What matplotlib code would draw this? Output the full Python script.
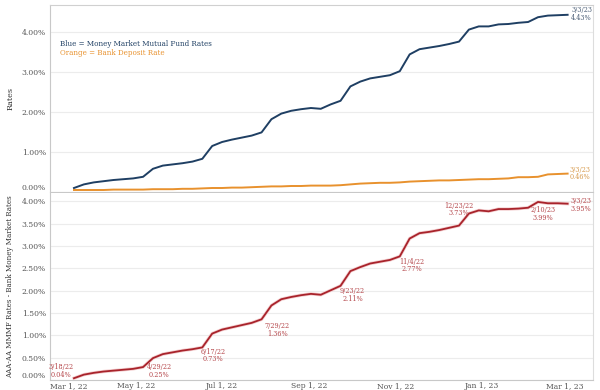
import matplotlib
matplotlib.use("Agg")
import matplotlib.pyplot as plt
import matplotlib.dates as mdates
from matplotlib.ticker import FixedLocator, FixedFormatter
import pandas as pd

dates = ["2022-03-18", "2022-03-25", "2022-04-01", "2022-04-08", "2022-04-15", "2022-04-22",
         "2022-04-29", "2022-05-06", "2022-05-13", "2022-05-20", "2022-05-27", "2022-06-03",
         "2022-06-10", "2022-06-17", "2022-06-24", "2022-07-01", "2022-07-08", "2022-07-15",
         "2022-07-22", "2022-07-29", "2022-08-05", "2022-08-12", "2022-08-19", "2022-08-26",
         "2022-09-02", "2022-09-09", "2022-09-16", "2022-09-23", "2022-09-30", "2022-10-07",
         "2022-10-14", "2022-10-21", "2022-10-28", "2022-11-04", "2022-11-11", "2022-11-18",
         "2022-11-25", "2022-12-02", "2022-12-09", "2022-12-16", "2022-12-23", "2022-12-30",
         "2023-01-06", "2023-01-13", "2023-01-20", "2023-01-27", "2023-02-03", "2023-02-10",
         "2023-02-17", "2023-02-24", "2023-03-03"]

mmmf = [0.10, 0.19, 0.24, 0.27, 0.30, 0.32, 0.34, 0.38, 0.58, 0.66, 0.69, 0.72, 0.76, 0.83,
        1.15, 1.25, 1.31, 1.36, 1.41, 1.49, 1.82, 1.96, 2.03, 2.07, 2.10, 2.08, 2.19, 2.28,
        2.64, 2.76, 2.84, 2.88, 2.92, 3.02, 3.44, 3.57, 3.61, 3.65, 3.70, 3.76, 4.06, 4.14,
        4.14, 4.19, 4.20, 4.23, 4.25, 4.37, 4.41, 4.42, 4.43]

bank = [0.05, 0.05, 0.05, 0.05, 0.06, 0.06, 0.06, 0.06, 0.07, 0.07, 0.07, 0.08, 0.08, 0.09,
        0.10, 0.10, 0.11, 0.11, 0.12, 0.13, 0.14, 0.14, 0.15, 0.15, 0.16, 0.16, 0.16, 0.17,
        0.19, 0.21, 0.22, 0.23, 0.23, 0.24, 0.26, 0.27, 0.28, 0.29, 0.29, 0.30, 0.31, 0.32,
        0.32, 0.33, 0.34, 0.37, 0.37, 0.38, 0.44, 0.45, 0.46]

spread = [0.04, 0.12, 0.16, 0.19, 0.21, 0.23, 0.25, 0.29, 0.49, 0.58, 0.62, 0.66, 0.69, 0.73,
          1.04, 1.13, 1.18, 1.23, 1.28, 1.36, 1.67, 1.81, 1.86, 1.90, 1.93, 1.91, 2.01, 2.11,
          2.44, 2.53, 2.61, 2.65, 2.69, 2.77, 3.17, 3.29, 3.32, 3.36, 3.41, 3.46, 3.73, 3.80,
          3.78, 3.83, 3.83, 3.84, 3.86, 3.99, 3.96, 3.96, 3.95]

top_ticks = [0, 1, 2, 3, 4]
top_tick_labels = ["0.00%", "1.00%", "2.00%", "3.00%", "4.00%"]
bot_ticks = [0, 0.5, 1, 1.5, 2, 2.5, 3, 3.5, 4]
bot_tick_labels = ["0.00%", "0.50%", "1.00%", "1.50%", "2.00%", "2.50%", "3.00%", "3.50%", "4.00%"]
x_tick_dates = ["2022-03-01", "2022-05-01", "2022-07-01", "2022-09-01", "2022-11-01",
                "2023-01-01", "2023-03-01"]
x_tick_labels = ["Mar 1, 22", "May 1, 22", "Jul 1, 22", "Sep 1, 22", "Nov 1, 22",
                 "Jan 1, 23", "Mar 1, 23"]

# annotated points on spread: (date, label, offset in pixels)
spread_notes = [("2022-03-18", "3/18/22\n0.04%", (-13, 7)),
                ("2022-04-29", "4/29/22\n0.25%", (26, -2)),
                ("2022-06-17", "6/17/22\n0.73%", (11, -8)),
                ("2022-07-29", "7/29/22\n1.36%", (16, -11)),
                ("2022-09-23", "9/23/22\n2.11%", (12, -9)),
                ("2022-11-04", "11/4/22\n2.77%", (12, -9)),
                ("2022-12-23", "12/23/22\n3.73%", (-10, 4)),
                ("2023-02-10", "2/10/23\n3.99%", (5, -12)),
                ("2023-03-03", "3/3/23\n3.95%", (13, -1))]

plt.rcParams['font.family'] = ['DejaVu Serif']
FS = 5.5
BLUE = "#1f3f63"
ORANGE = "#e8912d"
RED = "#a8232b"
RED_TXT = "#b5474b"
GRID = "#ececec"
SPINE = "#c8c8c8"
TXT = "#555555"

x = pd.to_datetime(dates)
xmin = pd.Timestamp("2022-03-01")
xmax = pd.Timestamp("2023-03-21")

fig = plt.figure(figsize=(6, 3.9), dpi=100)
ax1 = fig.add_axes([50/600, 1-192/390, 543/600, 187/390])
ax2 = fig.add_axes([50/600, 1-380/390, 543/600, 187/390])

for ax in (ax1, ax2):
    ax.set_xlim(xmin, xmax)
    ax.tick_params(length=0, labelsize=FS, colors=TXT, pad=3)
    ax.grid(axis='y', color=GRID, linewidth=0.8)
    ax.set_axisbelow(True)
    for s in ax.spines.values():
        s.set_color(SPINE)
        s.set_linewidth(0.8)
    ax.spines['right'].set_color("#dddddd")

ax1.spines['top'].set_color("#d0d0d0")
ax2.spines['top'].set_visible(False)

# top panel
ax1.plot(x, mmmf, color=BLUE, linewidth=1.4, solid_joinstyle='round')
ax1.plot(x, bank, color=ORANGE, linewidth=1.4, solid_joinstyle='round')
ax1.set_ylim(0, 4.675)
ax1.yaxis.set_major_locator(FixedLocator(top_ticks))
ax1.yaxis.set_major_formatter(FixedFormatter(top_tick_labels))
ax1.set_xticks([])
ax1.set_ylabel("Rates", fontsize=FS + 0.3, color="#333333")
ax1.yaxis.set_label_coords(-0.066, 0.5)
for lbl in ax1.get_yticklabels():
    if lbl.get_text() == "0.00%":
        lbl.set_va('bottom')

ax1.text(0.018, 0.78, "Blue = Money Market Mutual Fund Rates", transform=ax1.transAxes,
         fontsize=5.1, color=BLUE)
ax1.text(0.018, 0.73, "Orange = Bank Deposit Rate", transform=ax1.transAxes,
         fontsize=5.1, color=ORANGE)

ax1.annotate("3/3/23\n" + f"{mmmf[-1]:.2f}%", (x[-1], mmmf[-1]), xytext=(14, 1),
             textcoords='offset pixels', ha='center', va='center', fontsize=FS - 0.8,
             color="#4a5d75", linespacing=0.95)
ax1.annotate("3/3/23\n" + f"{bank[-1]:.2f}%", (x[-1], bank[-1]), xytext=(12, 0),
             textcoords='offset pixels', ha='center', va='center', fontsize=FS - 0.8,
             color="#d79a4c", linespacing=0.95)

# bottom panel
ax2.plot(x, spread, color="#f4cfd0", linewidth=2.4, solid_joinstyle='round')
ax2.plot(x, spread, color=RED, linewidth=1.3, solid_joinstyle='round')
ax2.set_ylim(0, 4.19)
ax2.yaxis.set_major_locator(FixedLocator(bot_ticks))
ax2.yaxis.set_major_formatter(FixedFormatter(bot_tick_labels))
for lbl in ax2.get_yticklabels():
    if lbl.get_text() == "0.00%":
        lbl.set_va('bottom')
ax2.set_ylabel("AAA-AA MMMF Rates - Bank Money Market Rates", fontsize=5.1,
               color="#333333")
ax2.yaxis.set_label_coords(-0.066, 0.5)

ax2.xaxis.set_major_locator(FixedLocator(mdates.date2num(pd.to_datetime(x_tick_dates))))
ax2.xaxis.set_major_formatter(FixedFormatter(x_tick_labels))
ax2.tick_params(axis='x', pad=1.5)
fig.canvas.draw()
xl = ax2.get_xticklabels()
xl[0].set_ha('left')

for d, txt, off in spread_notes:
    i = dates.index(d)
    ax2.annotate(txt, (x[i], spread[i]), xytext=off, textcoords='offset pixels',
                 ha='center', va='center', fontsize=FS - 0.8, color=RED_TXT,
                 linespacing=0.95)

fig.savefig("out.png", dpi=100, facecolor="white")
